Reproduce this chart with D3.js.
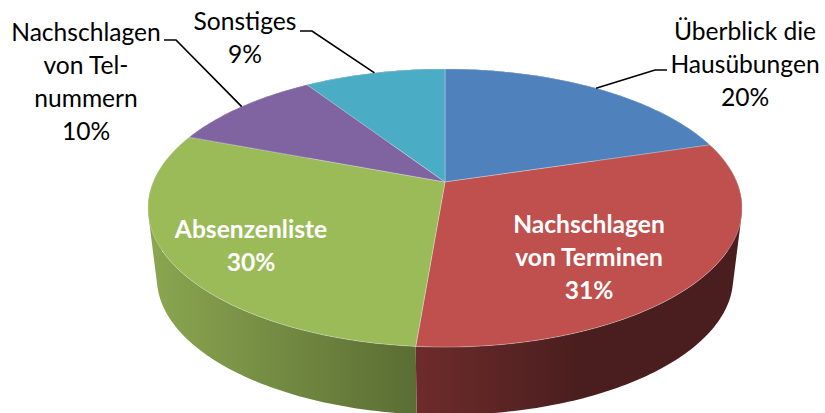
<!DOCTYPE html>
<html><head><meta charset="utf-8">
<style>html,body{margin:0;background:#fff}svg{display:block}text{font-family:Lato,"Open Sans",sans-serif}</style>
<script src="https://cdn.jsdelivr.net/npm/d3@7"></script></head>
<body><script>
const categories=[["Überblick die","Hausübungen"],["Nachschlagen","von Terminen"],["Absenzenliste"],["Nachschlagen","von Tel-","nummern"],["Sonstiges"]];
const values=[20.3,31.0,29.5,10.0,9.2];
const colors=["#4F81BD","#C0504D","#9BBB59","#8064A2","#4BACC6"];
const sideFrom=["#3b618e","#6e2b2b","#8ba750","#604b7a","#38818f"];
const sideTo=["#2a4566","#4a1e1e","#5a6d33","#443557","#285c66"];
const sideEnd=[1,0.5,1,1,1];

const W=825,H=413,cx=445,cy=182,k=0.187,ax=291.8,ay=134.2,depth=70.4,shrinkX=0.97,shrinkY=0.985;
const labelPos=[
 {x:745,y:32,fill:"#000",weight:400,leader:[[655,70],[667,70]]},
 {x:589,y:225,fill:"#fff",weight:700},
 {x:251,y:230,fill:"#fff",weight:700},
 {x:86,y:33,fill:"#000",weight:400,leader:[[176,40],[164,40]]},
 {x:245,y:22,fill:"#000",weight:400,leader:[[312,31],[300,31]]}
];
const svg=d3.select("body").append("svg").attr("width",W).attr("height",H);
const defs=svg.append("defs");
const pie=d3.pie().sort(null).value(d=>d);
const arcs=pie(values);
const project=(a,sx=1,sy=1,dy=0)=>{const u=Math.sin(a),v=Math.cos(a),d=1+k*v;
  return [cx+sx*ax*u/d, cy+dy-sy*ay*v/d];};
const samples=(a0,a1)=>{const n=Math.max(2,Math.ceil((a1-a0)*60));return d3.range(n+1).map(i=>a0+(a1-a0)*i/n);};
const line=d3.line();

// side walls: one path per slice, made of consistently wound quads so the silhouette is swept
const sides=svg.append("g");
arcs.forEach((d,i)=>{
  const as=samples(d.startAngle,d.endAngle);
  const quads=d3.pairs(as).map(([a,b])=>{
    const q=[project(a),project(b),project(b,shrinkX,shrinkY,depth),project(a,shrinkX,shrinkY,depth)];
    return d3.polygonArea(q)<0?q.reverse():q;
  });
  const xs=quads.flat().map(p=>p[0]);
  const g=defs.append("linearGradient").attr("id","s"+i).attr("gradientUnits","userSpaceOnUse")
    .attr("x1",d3.min(xs)).attr("x2",d3.max(xs)).attr("y1",0).attr("y2",0);
  g.append("stop").attr("offset",0).attr("stop-color",sideFrom[i]);
  g.append("stop").attr("offset",sideEnd[i]).attr("stop-color",sideTo[i]);
  sides.append("path").attr("d",quads.map(q=>line(q)+"Z").join("")).attr("fill",`url(#s${i})`);
});
// top face
const topG=svg.append("g");
arcs.forEach((d,i)=>{
  const pts=[[cx,cy]].concat(samples(d.startAngle,d.endAngle).map(a=>project(a)));
  topG.append("path").attr("d",line(pts)+"Z").attr("fill",colors[i])
    .attr("stroke","#e4e9ef").attr("stroke-opacity",.45).attr("stroke-width",.8);
});
// leaders
arcs.forEach((d,i)=>{
  const lp=labelPos[i]; if(!lp.leader) return;
  const p=project((d.startAngle+d.endAngle)/2);
  svg.append("path").attr("d",line([p,...lp.leader])).attr("fill","none").attr("stroke","#000").attr("stroke-width",1.7);
});
// labels
const fs=24.6,lh=33;
arcs.forEach((d,i)=>{
  const lp=labelPos[i];
  const lines=categories[i].concat([Math.round(values[i])+"%"]);
  const t=svg.append("text").attr("text-anchor","middle").attr("fill",lp.fill).attr("font-weight",lp.weight).attr("font-size",fs);
  lines.forEach((s,j)=>t.append("tspan").attr("x",lp.x).attr("y",lp.y+j*lh+8).text(s));
});
</script></body></html>
